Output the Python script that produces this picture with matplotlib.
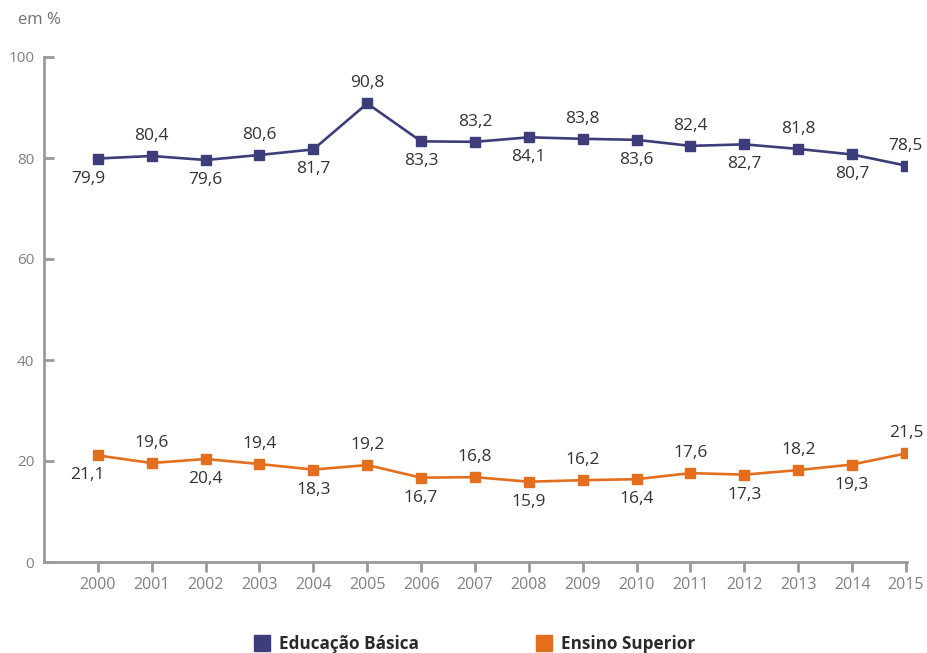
import matplotlib
matplotlib.use("Agg")
import matplotlib.pyplot as plt
from matplotlib.lines import Line2D

plt.rcParams['font.family'] = ['Open Sans', 'DejaVu Sans']

anos = list(range(2000, 2016))
basica = [79.9, 80.4, 79.6, 80.6, 81.7, 90.8, 83.3, 83.2, 84.1, 83.8, 83.6, 82.4, 82.7, 81.8, 80.7, 78.5]
superior = [21.1, 19.6, 20.4, 19.4, 18.3, 19.2, 16.7, 16.8, 15.9, 16.2, 16.4, 17.6, 17.3, 18.2, 19.3, 21.5]
nomes = ['Educação Básica', 'Ensino Superior']

azul = '#3d3d7b'
laranja = '#e36f1e'
cinza = '#9a9a9a'

fig = plt.figure(figsize=(9.28, 6.53), dpi=100)
ax = fig.add_axes([44/928, 91/653, 863/928, 505/653])

for serie, cor in [(basica, azul), (superior, laranja)]:
    ax.plot(anos, serie, color=cor, lw=1.9, marker='s', ms=6.5, zorder=3)
    for i, (a, v) in enumerate(zip(anos, serie)):
        dy = -20 if i % 2 == 0 else 20
        dx = -10 if i == 0 else 0
        ax.annotate(f'{v:.1f}'.replace('.', ','), (a, v), xytext=(dx, dy),
                    textcoords='offset pixels', ha='center', va='center',
                    fontsize=12.5, color='#333333')

ax.set_xlim(1999.0, 2015.02)
ax.set_ylim(0, 100)
ax.set_xticks(anos)
ax.set_yticks([0, 20, 40, 60, 80, 100])
ax.spines['top'].set_visible(False)
ax.spines['right'].set_visible(False)
for s in ['left', 'bottom']:
    ax.spines[s].set_color(cinza)
    ax.spines[s].set_linewidth(2)
ax.tick_params(axis='y', direction='in', length=7, width=2, color=cinza,
               labelcolor='#808080', labelsize=11, pad=7)
ax.tick_params(axis='x', direction='out', length=7, width=2, color=cinza,
               labelcolor='#808080', labelsize=11.5, pad=4)

fig.text(18/928, 1 - 20/653, 'em %', fontsize=12, color='#707070', va='center')

handles = [Line2D([], [], ls='none', marker='s', ms=11.5, color=azul),
           Line2D([], [], ls='none', marker='s', ms=11.5, color=laranja)]
leg = fig.legend(handles, nomes, loc='center', bbox_to_anchor=(470/928, 1 - 644/653),
                 ncol=2, frameon=False, handletextpad=0.0, columnspacing=6.3,
                 prop={'size': 12.3, 'weight': 'bold'})
for t in leg.get_texts():
    t.set_color('#2a2a2a')

fig.savefig('out.png', dpi=100)
